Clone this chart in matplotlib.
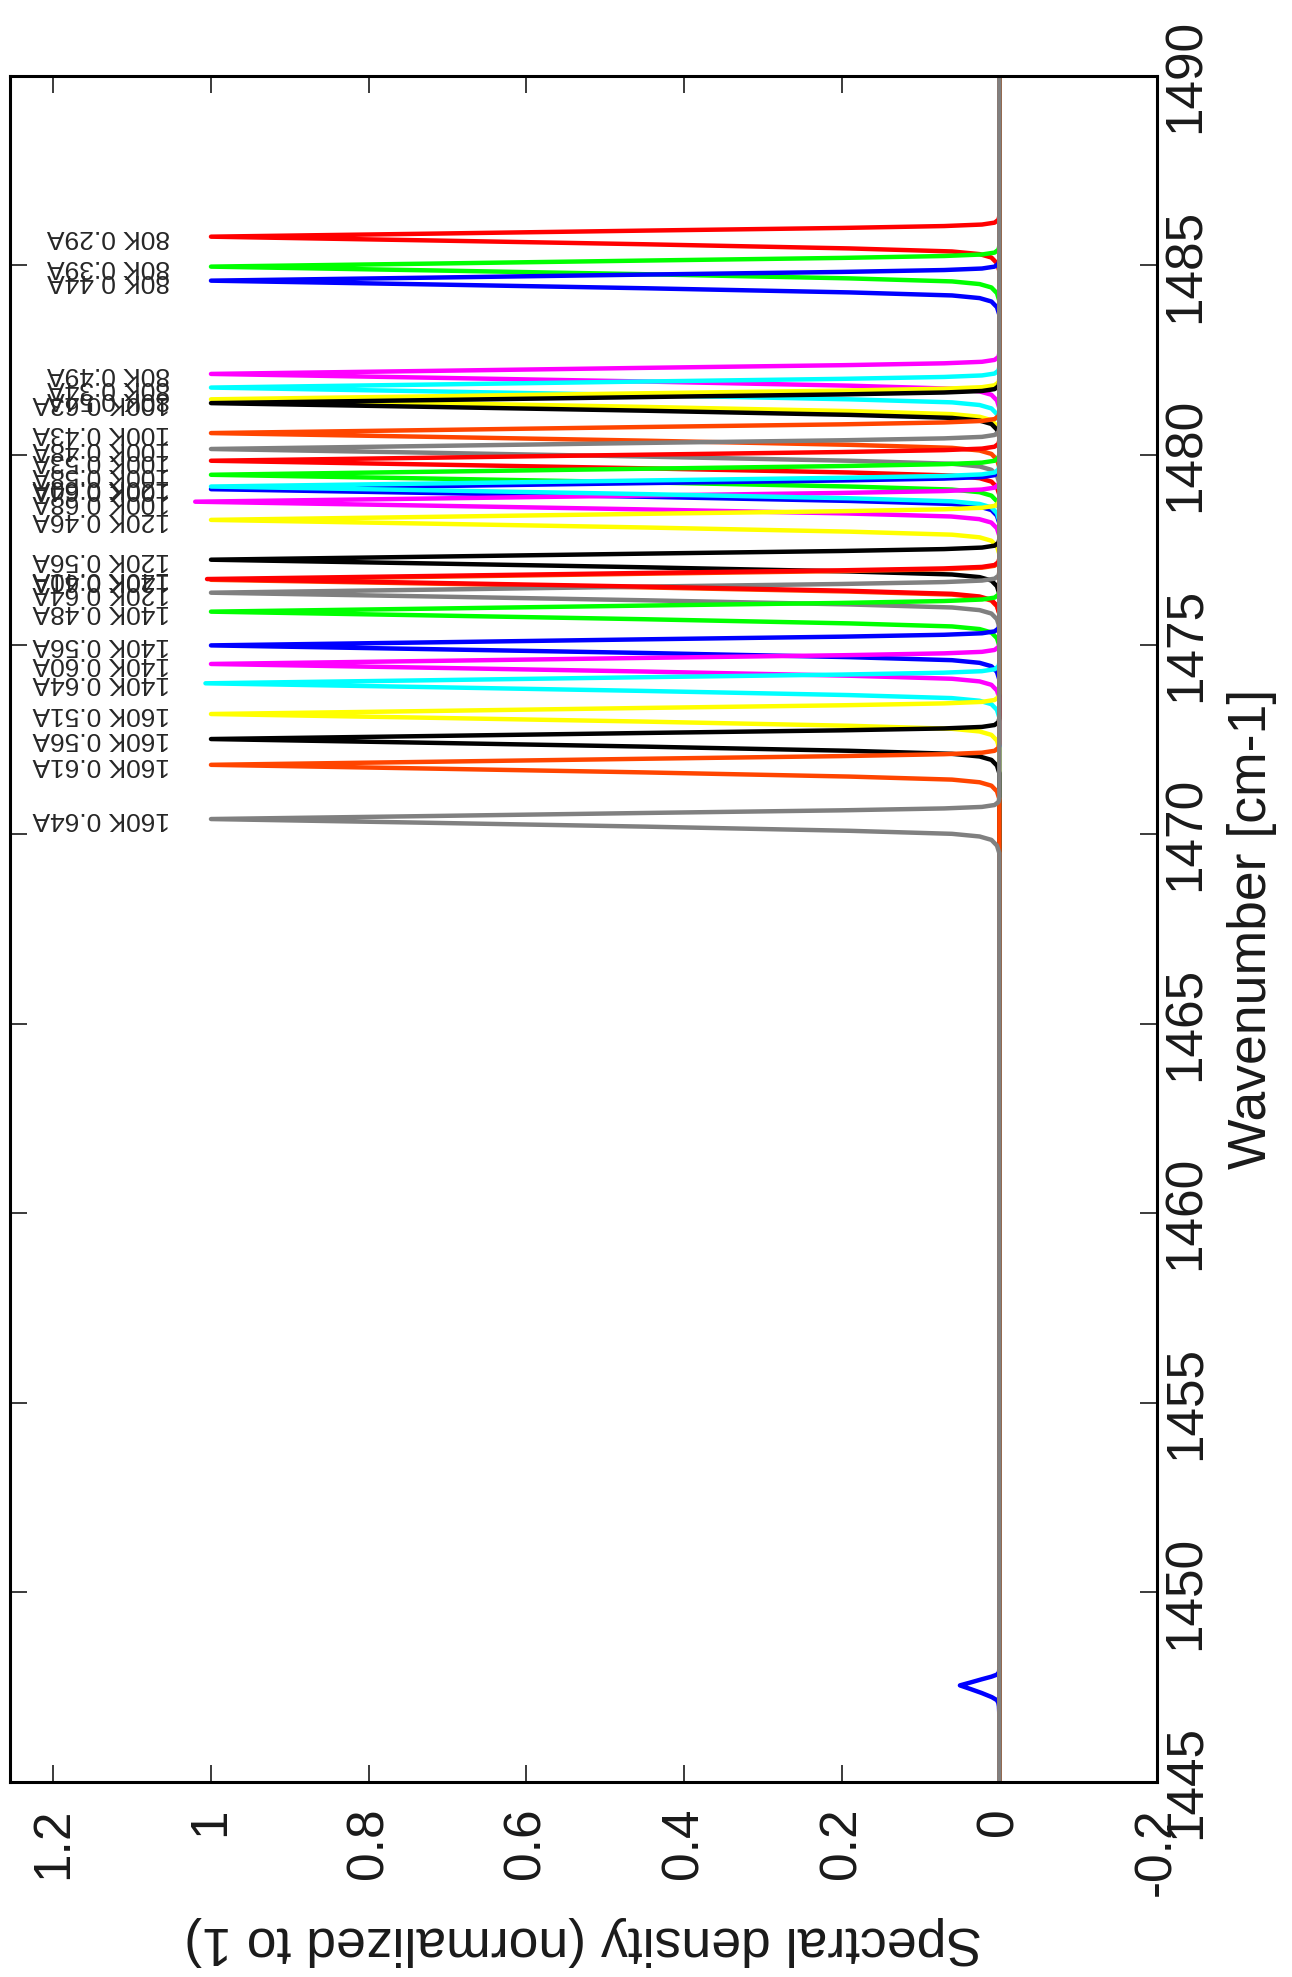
import matplotlib
matplotlib.use("Agg")
import matplotlib.pyplot as plt

plt.rcParams["font.family"] = ["Liberation Sans", "DejaVu Sans"]

# SERIES (one sharp peak per temperature / distance pair)
labels = [
    "80K 0.29A", "80K 0.39A", "80K 0.44A", "80K 0.49A", "80K 0.34A",
    "80K 0.54A", "100K 0.63A", "100K 0.43A", "100K 0.48A",
    "100K 0.53A", "100K 0.58A", "100K 0.64A", "100K 0.68A", "120K 0.60A",
    "120K 0.46A", "120K 0.56A", "120K 0.61A", "120K 0.64A",
    "140K 0.40A", "140K 0.48A", "140K 0.56A", "140K 0.60A", "140K 0.64A",
    "160K 0.51A", "160K 0.56A", "160K 0.61A", "160K 0.64A",
]

# Peak centre of each series (cm-1).
centers = [
    1485.76, 1484.97, 1484.60, 1482.14, 1481.78,
    1481.47, 1481.37, 1480.58, 1480.16,
    1479.85, 1479.48, 1479.10, 1478.77, 1479.17,
    1478.29, 1477.24, 1476.71, 1476.37,
    1476.73, 1475.87, 1474.98, 1474.49, 1473.98,
    1473.17, 1472.51, 1471.83, 1470.40,
]

# Peak height of each series (normalized, a few overshoot slightly).
heights = [
    1.0, 1.0, 1.0, 1.0, 1.0,
    1.0, 1.0, 1.0, 1.0,
    1.0, 1.0, 1.0, 1.02, 1.0,
    1.0, 1.0, 1.0, 1.0,
    1.005, 1.0, 1.0, 1.0, 1.007,
    1.0, 1.0, 1.0, 1.0,
]

# gnuplot style colour cycle
colors = ["#ff0000", "#00ff00", "#0000ff", "#ff00ff", "#00ffff",
          "#ffff00", "#000000", "#ff4500", "#808080"]

# Shape of one peak: offset from centre (cm-1) and relative height,
# read from the 80K 0.29A peak (broader foot on the low side).
peak_offsets = [-0.9, -0.7, -0.55, -0.46, -0.39, -0.31, -0.2, -0.1, 0.0,
                0.08, 0.16, 0.23, 0.28, 0.32, 0.37, 0.45, 0.55]
peak_shape = [0.0, 0.003, 0.01, 0.025, 0.06, 0.19, 0.45, 0.72, 1.0,
              0.72, 0.45, 0.2, 0.07, 0.022, 0.006, 0.001, 0.0]

# Small side band of the blue 80K 0.44A curve.
side_series = 2
side_center = 1447.55
side_height = 0.05

wn_range = [1445, 1490]
density_ticks = [1.2, 1.0, 0.8, 0.6, 0.4, 0.2, 0.0, -0.2]
density_tick_labels = ["1.2", "1", "0.8", "0.6", "0.4", "0.2", "0", "-0.2"]
wn_ticks = [1445, 1450, 1455, 1460, 1465, 1470, 1475, 1480, 1485, 1490]

label_density = 1.052


def build_curve(i):
    wn = [wn_range[0]]
    dens = [0.0]
    peaks = [(centers[i], heights[i])]
    if i == side_series:
        peaks.insert(0, (side_center, side_height))
    for c, h in peaks:
        for off, s in zip(peak_offsets, peak_shape):
            wn.append(c + off)
            dens.append(h * s)
    wn.append(wn_range[1])
    dens.append(0.0)
    return wn, dens


fig = plt.figure(figsize=(12.92, 19.77), dpi=100)
ax = fig.add_axes([0.0077, 0.0986, 0.8878, 0.8630])

# The plot is drawn turned by 90 degrees: density runs right to left,
# wavenumber runs bottom to top.
for i in range(len(labels)):
    wn, dens = build_curve(i)
    ax.plot(dens, wn, color=colors[i % len(colors)], lw=3.2)

for i, lab in enumerate(labels):
    ax.text(label_density, centers[i], lab, rotation=180,
            ha="right", va="center", fontsize=19, color="#262626")

ax.set_xlim(1.255, -0.2)
ax.set_ylim(wn_range[0], wn_range[1])

ax.set_xticks(density_ticks)
ax.set_xticklabels(density_tick_labels, rotation=90)
ax.set_yticks(wn_ticks)
ax.set_yticklabels([str(t) for t in wn_ticks], rotation=90, va="center")

ax.tick_params(axis="both", direction="in", top=True, bottom=True,
               left=True, right=True, labelleft=False, labelright=True,
               length=12, width=1.2, labelsize=37, colors="#1a1a1a")
ax.tick_params(axis="x", pad=18)
ax.tick_params(axis="y", pad=3)

for sp in ax.spines.values():
    sp.set_linewidth(2.2)

ax.set_xlabel("Spectral density (normalized to 1)", fontsize=38.5,
              rotation=180, color="#1a1a1a")
ax.xaxis.set_label_coords(0.5, -0.093)
ax.xaxis.label.set_va("center")

ax.yaxis.set_label_position("right")
ax.set_ylabel("Wavenumber [cm-1]", fontsize=38.5, rotation=90,
              color="#1a1a1a")
ax.yaxis.set_label_coords(1.083, 0.5)
ax.yaxis.label.set_va("center")
ax.yaxis.label.set_ha("center")

fig.savefig("out.png", dpi=100)
